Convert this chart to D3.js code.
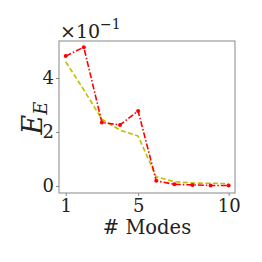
<!DOCTYPE html>
<html><head><meta charset="utf-8">
<script src="https://cdn.jsdelivr.net/npm/d3@7"></script>
<style>body{margin:0;background:#fff}svg{display:block}text{font-family:"DejaVu Serif",serif;fill:#222}</style>
</head><body>
<script>
const modes = [1,2,3,4,5,6,7,8,9,10];
const redSeries = [4.81,5.14,2.35,2.26,2.78,0.19,0.06,0.04,0.02,0.02];
const yellowSeries = [4.60,3.56,2.47,2.07,1.85,0.34,0.16,0.11,0.10,0.09];
const xTicks = [1,5,10];
const yTicks = [0,2,4];

const W=262,H=262;
const m={l:59,r:235,t:41,b:193};
const FONT="DejaVu Serif";
const svg=d3.select("body").append("svg").attr("width",W).attr("height",H);
const x=d3.scaleLinear().domain([0.63,10.35]).range([m.l,m.r]);
const y=d3.scaleLinear().domain([-0.26,5.37]).range([m.b,m.t]);

const frame="#888";
svg.append("rect").attr("x",m.l).attr("y",m.t).attr("width",m.r-m.l).attr("height",m.b-m.t)
  .attr("fill","none").attr("stroke",frame).attr("stroke-width",1);

const xa=svg.append("g").attr("transform",`translate(0,${m.b})`)
  .call(d3.axisBottom(x).tickValues(xTicks).tickSize(3).tickPadding(3).tickFormat(d3.format("d")));
const ya=svg.append("g").attr("transform",`translate(${m.l},0)`)
  .call(d3.axisLeft(y).tickValues(yTicks).tickSize(3).tickPadding(2).tickFormat(d3.format("d")));
[xa,ya].forEach(g=>{g.attr("font-family",FONT).attr("font-size",18);g.select(".domain").remove();g.selectAll("line").attr("stroke",frame);
  g.selectAll("text").attr("fill","#222");});

const line=d3.line().x((d,i)=>x(modes[i])).y(d=>y(d));
svg.append("path").datum(yellowSeries).attr("d",line).attr("fill","none")
  .attr("stroke","#bfbf00").attr("stroke-width",1.6).attr("stroke-dasharray","5,2.5");
svg.append("path").datum(redSeries).attr("d",line).attr("fill","none")
  .attr("stroke","#ff0000").attr("stroke-width",1.6).attr("stroke-dasharray","6,2,1.5,2");
svg.append("g").selectAll("circle").data(redSeries).join("circle")
  .attr("cx",(d,i)=>x(modes[i])).attr("cy",d=>y(d)).attr("r",2).attr("fill","#ff0000");

const off=svg.append("text").attr("x",60).attr("y",38).attr("font-family",FONT).attr("font-size",19);
off.append("tspan").text("×10");
off.append("tspan").attr("dy",-9).attr("font-size",14).text("−1");

svg.append("text").attr("x",147).attr("y",234).attr("text-anchor","middle").attr("font-family",FONT).attr("font-size",19.5).text("# Modes");

const yl=svg.append("text").attr("transform","translate(42,118) rotate(-90)").attr("text-anchor","middle").attr("font-family",FONT).attr("font-size",27);
yl.append("tspan").attr("font-style","italic").text("E");
yl.append("tspan").attr("dy",5).attr("font-style","italic").attr("font-size",18).text("E");
</script>
</body></html>
